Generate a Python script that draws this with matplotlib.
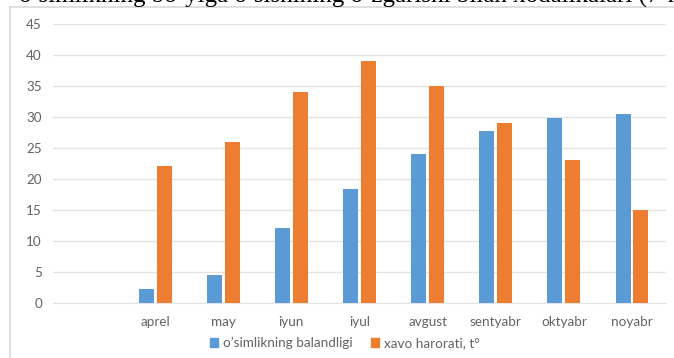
import matplotlib
matplotlib.use("Agg")
import matplotlib.pyplot as plt
from matplotlib.lines import Line2D
import numpy as np

categories = ["", "aprel", "may", "iyun", "iyul", "avgust", "sentyabr", "oktyabr", "noyabr"]
height_vals = [np.nan, 2.2, 4.5, 12, 18.3, 24, 27.8, 29.8, 30.4]
temp_vals = [np.nan, 22, 26, 34, 39, 35, 29, 23, 15]
series_names = ["o\u2019simlikning balandligi", "xavo harorati, t\u00b0"]
yticks = [0, 5, 10, 15, 20, 25, 30, 35, 40, 45]

BLUE = "#5B9BD5"
ORANGE = "#ED7D31"

plt.rcParams['font.family'] = ['Lato', 'DejaVu Sans']

W, H = 674, 358
fig = plt.figure(figsize=(W / 100, H / 100), dpi=100)

def fx(px):
    return px / W

def fy(py):
    return 1 - py / H

ax = fig.add_axes([fx(53), fy(302.7), fx(666) - fx(53), fy(24) - fy(302.7)])

x = np.arange(len(categories))
bw = 0.22
off = 0.13
ax.bar(x - off, height_vals, bw, color=BLUE, label=series_names[0], zorder=3)
ax.bar(x + off, temp_vals, bw, color=ORANGE, label=series_names[1], zorder=3)

ax.set_xlim(-0.5, len(categories) - 0.5)
ax.set_ylim(0, 45)
ax.set_yticks(yticks)
ax.set_xticks(x)
ax.set_xticklabels(categories)
ax.yaxis.grid(True, color="#E3E3E3", linewidth=1.0, zorder=0)
ax.set_axisbelow(True)
for s in ax.spines.values():
    s.set_visible(False)
ax.spines['bottom'].set_visible(True)
ax.spines['bottom'].set_color("#E3E3E3")
ax.tick_params(axis='both', length=0, colors="#636363", labelsize=9.7)
ax.tick_params(axis='x', pad=9.5)
ax.tick_params(axis='y', pad=8)

handles = [plt.Rectangle((0, 0), 1, 1, color=BLUE), plt.Rectangle((0, 0), 1, 1, color=ORANGE)]
fig.legend(handles, series_names, loc='center', bbox_to_anchor=(fx(345), fy(343)),
           ncol=2, frameon=False, fontsize=9.7, handlelength=0.6, handleheight=0.6,
           handletextpad=0.35, columnspacing=1.4, labelcolor="#636363")

# chart frame (light border)
fig.add_artist(Line2D([fx(9.5), fx(9.5)], [fy(7), 0], color="#D9D9D9", linewidth=1.2))
fig.add_artist(Line2D([fx(9.5), 1], [fy(7), fy(7)], color="#D9D9D9", linewidth=1.2))

# clipped document text above the chart (cut off at the top edge, as in the reference)
fig.text(fx(725), fy(3), "o\u2019simlikning bo\u2019yiga o\u2019sishining o\u2019zgarishi bilan xodalikalari (7-rasm)",
         ha='right', va='baseline', fontsize=18, family=['Liberation Serif'], color="black")

fig.savefig("out.png", dpi=100)
